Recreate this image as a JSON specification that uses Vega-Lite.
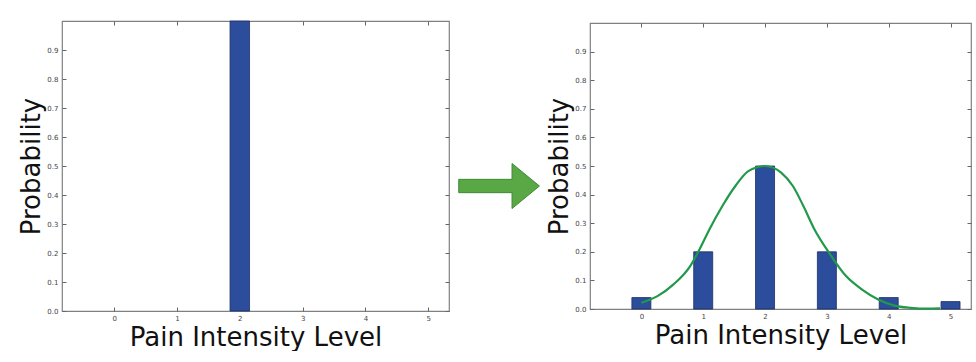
{
  "$schema": "https://vega.github.io/schema/vega-lite/v6.json",
  "padding": {"left": 18, "top": 17, "right": 0, "bottom": 0},
  "background": "white",
  "hconcat": [
    {
      "width": 387,
      "height": 290,
      "data": {"values": [
        {"level": 0, "p": 0}, {"level": 1, "p": 0}, {"level": 2, "p": 1.0},
        {"level": 3, "p": 0}, {"level": 4, "p": 0}, {"level": 5, "p": 0}
      ]},
      "layer": [
        {
          "transform": [{"filter": "datum.p > 0"}],
          "mark": {"type": "bar", "size": 19.5, "fill": "#2c4d9c", "stroke": "#1c2e66", "strokeWidth": 0.8},
          "encoding": {
            "x": {"field": "level", "type": "quantitative", "scale": {"domain": [-0.75, 5.25], "nice": false, "zero": false},
                  "axis": {"orient": "bottom", "values": [0, 1, 2, 3, 4, 5], "title": "Pain Intensity Level", "labelPadding": 7, "titlePadding": 3}},
            "y": {"field": "p", "type": "quantitative", "scale": {"domain": [0, 1], "nice": false},
                  "axis": {"orient": "left", "values": [0, 0.1, 0.2, 0.3, 0.4, 0.5, 0.6, 0.7, 0.8, 0.9], "format": ".1f", "title": "Probability"}}
          }
        },
        {
          "mark": {"type": "point", "opacity": 0},
          "encoding": {
            "x": {"field": "level", "type": "quantitative", "axis": {"orient": "top", "values": [0, 1, 2, 3, 4, 5], "labels": false, "title": null}},
            "y": {"field": "p", "type": "quantitative", "axis": {"orient": "right", "values": [0, 0.1, 0.2, 0.3, 0.4, 0.5, 0.6, 0.7, 0.8, 0.9], "labels": false, "title": null}}
          }
        }
      ]
    },
    {
      "width": 140.7,
      "height": 290,
      "view": {"stroke": null},
      "data": {"values": [{"ax": 0.356, "ay": 0.431}]},
      "mark": {"type": "point", "shape": "M-1,-0.165L0.321,-0.165L0.321,-0.558L1,0L0.321,0.558L0.321,0.165L-1,0.165Z", "size": 6512, "filled": true, "fill": "#5aa845", "stroke": "#3e8a36", "strokeWidth": 1, "opacity": 1},
      "encoding": {
        "x": {"field": "ax", "type": "quantitative", "scale": {"domain": [0, 1]}, "axis": null},
        "y": {"field": "ay", "type": "quantitative", "scale": {"domain": [0, 1]}, "axis": null}
      }
    },
    {
      "width": 381,
      "height": 286,
      "layer": [
        {
          "data": {"values": [
            {"level": 0, "p": 0.04}, {"level": 1, "p": 0.2}, {"level": 2, "p": 0.5},
            {"level": 3, "p": 0.2}, {"level": 4, "p": 0.04}, {"level": 5, "p": 0.026}
          ]},
          "mark": {"type": "bar", "size": 19, "fill": "#2c4d9c", "stroke": "#1c2e66", "strokeWidth": 0.8},
          "encoding": {
            "x": {"field": "level", "type": "quantitative", "scale": {"domain": [-0.75, 5.25], "nice": false, "zero": false},
                  "axis": {"orient": "bottom", "values": [0, 1, 2, 3, 4, 5], "title": "Pain Intensity Level", "labelPadding": 7, "titlePadding": 3}},
            "y": {"field": "p", "type": "quantitative", "scale": {"domain": [0, 1], "nice": false},
                  "axis": {"orient": "left", "values": [0, 0.1, 0.2, 0.3, 0.4, 0.5, 0.6, 0.7, 0.8, 0.9], "format": ".1f", "title": "Probability"}}
          }
        },
        {
          "data": {"values": [
            {"level": 0, "p": 0.022}, {"level": 0.26, "p": 0.045}, {"level": 0.52, "p": 0.086},
            {"level": 0.79, "p": 0.15}, {"level": 0.94, "p": 0.208}, {"level": 1.1, "p": 0.278},
            {"level": 1.31, "p": 0.36}, {"level": 1.52, "p": 0.43}, {"level": 1.73, "p": 0.482},
            {"level": 2.0, "p": 0.5}, {"level": 2.26, "p": 0.477}, {"level": 2.45, "p": 0.43},
            {"level": 2.62, "p": 0.36}, {"level": 2.8, "p": 0.278}, {"level": 3.04, "p": 0.195},
            {"level": 3.31, "p": 0.115}, {"level": 3.57, "p": 0.068}, {"level": 3.83, "p": 0.033},
            {"level": 4.09, "p": 0.012}, {"level": 4.36, "p": 0.004}, {"level": 4.62, "p": 0.001},
            {"level": 4.83, "p": 0.002}
          ]},
          "mark": {"type": "line", "color": "#22994a", "strokeWidth": 2.2, "interpolate": "monotone"},
          "encoding": {
            "x": {"field": "level", "type": "quantitative", "axis": {"orient": "top", "values": [0, 1, 2, 3, 4, 5], "labels": false, "title": null}},
            "y": {"field": "p", "type": "quantitative", "axis": {"orient": "right", "values": [0, 0.1, 0.2, 0.3, 0.4, 0.5, 0.6, 0.7, 0.8, 0.9], "labels": false, "title": null}}
          }
        }
      ]
    }
  ],
  "spacing": 0,
  "bounds": "flush",
  "center": true,
  "config": {
    "view": {"stroke": "#808080", "strokeWidth": 1.2},
    "axis": {
      "domain": false,
      "grid": false,
      "tickSize": -4,
      "tickColor": "#666666",
      "tickWidth": 1,
      "labelFont": "DejaVu Sans",
      "labelFontSize": 7,
      "labelColor": "#444444",
      "labelPadding": 8,
      "titleFont": "DejaVu Sans",
      "titleFontSize": 26,
      "titleFontWeight": "normal",
      "titleColor": "#111111",
      "titlePadding": 2
    }
  }
}
